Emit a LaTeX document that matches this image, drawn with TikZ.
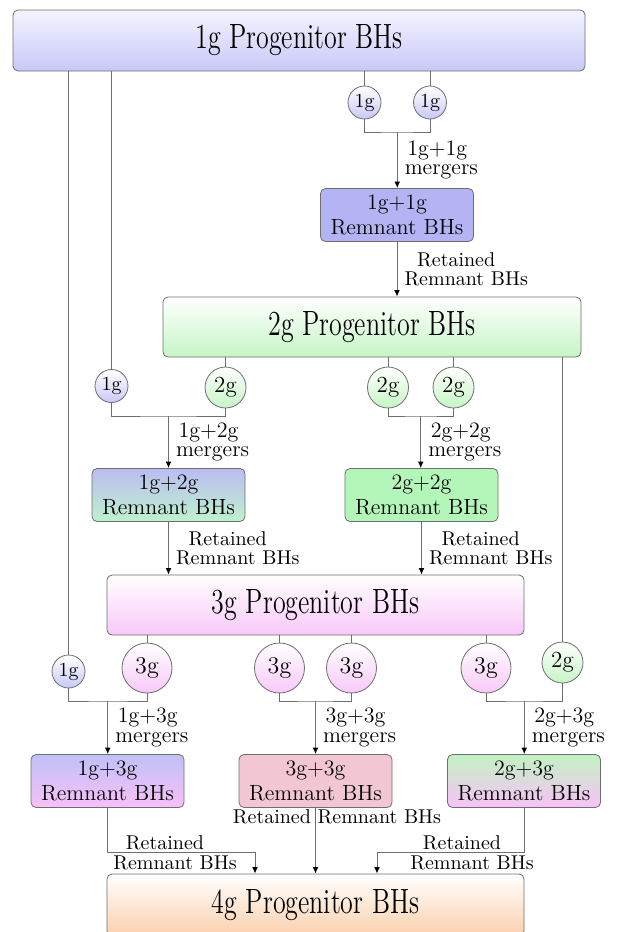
\documentclass[tikz,border=0pt]{standalone}
\usepackage{fontspec}
\usepackage{graphicx}
\usetikzlibrary{arrows.meta,shadings}
\definecolor{c1top}{RGB}{244,244,255}
\definecolor{c1bot}{RGB}{200,200,248}
\definecolor{c11}{RGB}{180,180,245}
\definecolor{c2bot}{RGB}{198,245,198}
\definecolor{c22}{RGB}{180,245,185}
\definecolor{c12top}{RGB}{188,188,242}
\definecolor{c12bot}{RGB}{190,242,204}
\definecolor{c3bot}{RGB}{248,200,248}
\definecolor{c13top}{RGB}{192,192,248}
\definecolor{c13bot}{RGB}{248,192,248}
\definecolor{c33}{RGB}{242,198,210}
\definecolor{c23top}{RGB}{194,242,194}
\definecolor{c23bot}{RGB}{248,194,248}
\definecolor{c4bot}{RGB}{250,208,172}
\definecolor{edgegray}{RGB}{110,110,110}
\newcommand{\titletext}[1]{\scalebox{1}[1.35]{#1}}
\begin{document}
\begin{tikzpicture}[x=0.5pt,y=-0.5pt,
  prog/.style={draw=edgegray, rounded corners=2.5pt, minimum height=30pt,
    inner sep=0pt, font=\fontsize{13}{15}\selectfont, top color=white},
  rem/.style={draw=edgegray, rounded corners=2.5pt, minimum width=76.5pt,
    minimum height=26.5pt, inner sep=0pt, align=center,
    font=\fontsize{11}{12.5}\selectfont},
  bh/.style={circle, draw=edgegray, inner sep=0pt, top color=white},
  bhone/.style={bh, minimum size=16.5pt, bottom color=c1bot, font=\fontsize{10}{12}\selectfont},
  bhtwo/.style={bh, minimum size=20.5pt, bottom color=c2bot, font=\fontsize{11.5}{13}\selectfont},
  bhthree/.style={bh, minimum size=25pt, bottom color=c3bot, font=\fontsize{12}{14}\selectfont},
  conn/.style={draw=edgegray, line width=0.5pt},
  arr/.style={conn, -{Latex[length=3.2pt,width=2.8pt,color=black]}},
  mlab/.style={font=\fontsize{11}{9.8}\selectfont, align=center, inner sep=0pt},
  rlab/.style={font=\fontsize{10}{9.5}\selectfont, align=center, inner sep=0pt},
  blab/.style={font=\fontsize{10}{10}\selectfont, align=center, inner sep=0pt},
]
\useasboundingbox (0,0) rectangle (619,932);

% progenitor boxes
\node[prog, minimum width=286pt, minimum height=30.5pt, top color=c1top, bottom color=c1bot] (g1) at (299,40.5) {\titletext{1g Progenitor BHs}};
\node[prog, minimum width=209pt, bottom color=c2bot] (g2) at (372,327) {\titletext{2g Progenitor BHs}};
\node[prog, minimum width=208.5pt, bottom color=c3bot] (g3) at (315.5,605) {\titletext{3g Progenitor BHs}};
\node[prog, minimum width=208.5pt, minimum height=31pt, bottom color=c4bot] (g4) at (315.5,905) {\titletext{4g Progenitor BHs}};

% remnant boxes
\node[rem, fill=c11] (r11) at (397,215) {1g+1g\\Remnant BHs};
\node[rem, top color=c12top, bottom color=c12bot] (r12) at (168.5,495) {1g+2g\\Remnant BHs};
\node[rem, fill=c22] (r22) at (421.5,495) {2g+2g\\Remnant BHs};
\node[rem, top color=c13top, bottom color=c13bot] (r13) at (107.5,781) {1g+3g\\Remnant BHs};
\node[rem, fill=c33] (r33) at (315.5,781) {3g+3g\\Remnant BHs};
\node[rem, top color=c23top, bottom color=c23bot] (r23) at (524,781) {2g+3g\\Remnant BHs};

% black holes
\node[bhone] (c1a) at (364.5,102.5) {1g};
\node[bhone] (c1b) at (430,102.5) {1g};
\node[bhone] (c1c) at (111.5,386) {1g};
\node[bhtwo] (c2a) at (225.5,387.5) {2g};
\node[bhtwo] (c2b) at (388,387.5) {2g};
\node[bhtwo] (c2c) at (453.5,387.5) {2g};
\node[bhone] (c1d) at (68.5,671.5) {1g};
\node[bhthree] (c3a) at (147,668) {3g};
\node[bhthree] (c3b) at (279.5,668) {3g};
\node[bhthree] (c3c) at (351.5,668) {3g};
\node[bhthree] (c3d) at (486,668) {3g};
\node[bhtwo] (c2d) at (562.5,662.5) {2g};

% joints
\coordinate (j1) at (397.25,132);
\coordinate (j2) at (168.5,416);
\coordinate (j3) at (420.75,416);
\coordinate (j4) at (107.75,701);
\coordinate (j5) at (315.5,701);
\coordinate (j6) at (524.25,701);
\coordinate (b1) at (255,852);
\coordinate (b2) at (377,852);

% feeds from progenitor boxes
\draw[conn] (c1a.north) -- (c1a.north |- g1.south);
\draw[conn] (c1b.north) -- (c1b.north |- g1.south);
\draw[conn] (c1c.north) -- (c1c.north |- g1.south);
\draw[conn] (c1d.north) -- (c1d.north |- g1.south);
\draw[conn] (c2a.north) -- (c2a.north |- g2.south);
\draw[conn] (c2b.north) -- (c2b.north |- g2.south);
\draw[conn] (c2c.north) -- (c2c.north |- g2.south);
\draw[conn] (c2d.north) -- (c2d.north |- g2.south);
\draw[conn] (c3a.north) -- (c3a.north |- g3.south);
\draw[conn] (c3b.north) -- (c3b.north |- g3.south);
\draw[conn] (c3c.north) -- (c3c.north |- g3.south);
\draw[conn] (c3d.north) -- (c3d.north |- g3.south);

% merger joins
\draw[conn] (c1a.south) |- (j1) -| (c1b.south);
\draw[conn] (c1c.south) |- (j2) -| (c2a.south);
\draw[conn] (c2b.south) |- (j3) -| (c2c.south);
\draw[conn] (c1d.south) |- (j4) -| (c3a.south);
\draw[conn] (c3b.south) |- (j5) -| (c3c.south);
\draw[conn] (c3d.south) |- (j6) -| (c2d.south);

% merger arrows
\draw[arr] (j1) -- (j1 |- r11.north) node[mlab, midway, right=3.5pt] {1g+1g\hspace*{4pt}\\mergers};
\draw[arr] (j2) -- (j2 |- r12.north) node[mlab, midway, right=3.5pt] {1g+2g\hspace*{4pt}\\mergers};
\draw[arr] (j3) -- (j3 |- r22.north) node[mlab, midway, right=3.5pt] {2g+2g\hspace*{4pt}\\mergers};
\draw[arr] (j4) -- (j4 |- r13.north) node[mlab, midway, right=3.5pt] {1g+3g\hspace*{4pt}\\mergers};
\draw[arr] (j5) -- (j5 |- r33.north) node[mlab, midway, right=3.5pt] {3g+3g\hspace*{4pt}\\mergers};
\draw[arr] (j6) -- (j6 |- r23.north) node[mlab, midway, right=3.5pt] {2g+3g\hspace*{4pt}\\mergers};

% retained arrows
\draw[arr] (r11.south) -- (r11.south |- g2.north) node[rlab, midway, right=3.5pt] {Retained\hspace*{10pt}\\Remnant BHs};
\draw[arr] (r12.south) -- (r12.south |- g3.north) node[rlab, midway, right=3.5pt] {Retained\hspace*{10pt}\\Remnant BHs};
\draw[arr] (r22.south) -- (r22.south |- g3.north) node[rlab, midway, right=3.5pt] {Retained\hspace*{10pt}\\Remnant BHs};
\draw[arr] (r13.south) |- (b1) -- (b1 |- g4.north);
\draw[arr] (r33.south) -- (r33.south |- g4.north);
\draw[arr] (r23.south) |- (b2) -- (b2 |- g4.north);
\node[blab] (l1) at (175,853) {Retained\hspace*{10pt}\\Remnant BHs};
\node[blab] (l2) at (472,853) {Retained\hspace*{10pt}\\Remnant BHs};
\node[blab] (l3) at (337,817) {Retained Remnant BHs};
\end{tikzpicture}
\end{document}
